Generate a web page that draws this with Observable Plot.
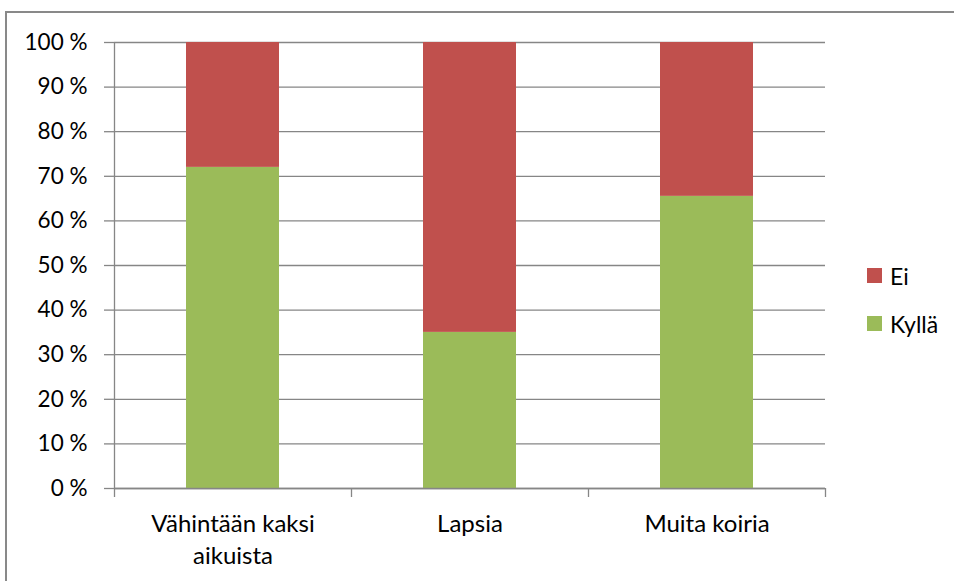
<!DOCTYPE html>
<html>
<head>
<meta charset="utf-8">
<script src="https://cdn.jsdelivr.net/npm/d3@7"></script>
<script src="https://cdn.jsdelivr.net/npm/@observablehq/plot@0.6"></script>
<style>
  html, body { margin: 0; padding: 0; background: #fff; overflow: hidden; }
  #wrap { position: relative; width: 954px; height: 581px; overflow: hidden; font-family: Lato, "Open Sans", sans-serif; }
  #border { position: absolute; left: 5px; top: 11px; width: 3000px; height: 3000px; border-left: 2px solid #898989; border-top: 2px solid #898989; }
  #chart { position: absolute; left: 0; top: 0; }
  .leg { position: absolute; display: flex; align-items: center; font-size: 23px; color: #000; }
  .leg span.sw { width: 15px; height: 15px; display: inline-block; margin-right: 8px; }
</style>
</head>
<body>
<div id="wrap">
  <div id="border"></div>
  <div id="chart"></div>
  <div id="legend"></div>
</div>
<script>
const categories = ["Vähintään kaksi aikuista", "Lapsia", "Muita koiria"];
const seriesNames = ["Kyllä", "Ei"];
const seriesColors = ["#9BBB59", "#C0504D"];
const kylla = [72, 35, 65.5];
const ei = [28, 65, 34.5];
const yTicks = [0, 10, 20, 30, 40, 50, 60, 70, 80, 90, 100];

const rows = [];
categories.forEach((c, i) => {
  rows.push({cat: c, series: "Kyllä", value: kylla[i]});
  rows.push({cat: c, series: "Ei", value: ei[i]});
});

const W = 954, H = 581;
const mL = 114, mR = 129, mT = 42, mB = 93;
const pIn = 0.608, pOut = 0.304;
const step = (W - mL - mR) / (categories.length - pIn + 2 * pOut);
const grid = "#868686";
const fsY = 22.5, fsX = 24;

const chart = Plot.plot({
  width: W,
  height: H,
  marginLeft: mL,
  marginRight: mR,
  marginTop: mT,
  marginBottom: mB,
  style: {fontFamily: "Lato, 'Open Sans', sans-serif", fontSize: fsY + "px", color: "#000", background: "transparent"},
  x: {domain: categories, paddingInner: pIn, paddingOuter: pOut, label: null},
  y: {domain: [0, 100], label: null},
  color: {domain: seriesNames, range: seriesColors},
  marks: [
    Plot.gridY(yTicks, {stroke: grid, strokeOpacity: 1, strokeWidth: 1.3}),
    Plot.barY(rows, {x: "cat", y: "value", fill: "series", order: seriesNames}),
    Plot.ruleY([0], {stroke: grid, strokeWidth: 1.3}),
    Plot.ruleX([categories[0]], {dx: -step / 2, y1: 0, y2: 100, stroke: grid, strokeWidth: 1.3}),
    Plot.axisY({ticks: yTicks, tickFormat: d => d + " %", tickSize: 10, tickPadding: 17, stroke: grid, strokeWidth: 1.3, strokeOpacity: 1, fontSize: fsY, fill: "#000"}),
    Plot.axisX({tickSize: 9, dx: -step / 2, tickFormat: () => "", stroke: grid, strokeWidth: 1.3, strokeOpacity: 1}),
    Plot.axisX({ticks: [categories[categories.length - 1]], tickSize: 9, dx: step / 2, tickFormat: () => "", stroke: grid, strokeWidth: 1.3, strokeOpacity: 1}),
    Plot.axisX({tickSize: 0, tickPadding: 20, lineWidth: 9, lineHeight: 1.36, fontSize: fsX, fill: "#000"})
  ]
});
document.getElementById("chart").appendChild(chart);

// legend (top entry = last series, as in the reference)
const legend = document.getElementById("legend");
const legTops = [316, 268];
seriesNames.forEach((name, i) => {
  const d = document.createElement("div");
  d.className = "leg";
  d.style.left = "867px";
  d.style.top = (legTops[i] - 6) + "px";
  d.style.height = "27px";
  const sw = document.createElement("span");
  sw.className = "sw";
  sw.style.background = seriesColors[i];
  const t = document.createElement("span");
  t.textContent = name;
  d.appendChild(sw);
  d.appendChild(t);
  legend.appendChild(d);
});
</script>
</body>
</html>
